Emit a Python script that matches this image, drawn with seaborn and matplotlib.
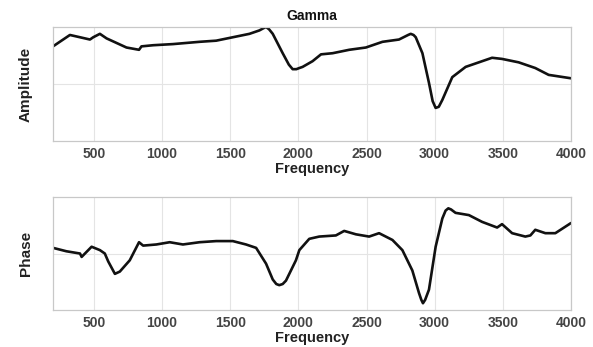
import matplotlib
matplotlib.use("Agg")
import matplotlib.pyplot as plt
import seaborn as sns
import pandas as pd

amp_freq = [200, 324, 398, 471, 495, 544, 593, 666, 739, 831, 849, 934, 1080, 1275, 1397,
            1519, 1641, 1714, 1745, 1763, 1785, 1812, 1885, 1930, 1958, 1985, 2007, 2031,
            2104, 2166, 2251, 2373, 2495, 2617, 2738, 2805, 2824, 2845, 2861, 2910, 2958,
            2985, 3007, 3030, 3056, 3129, 3227, 3324, 3421, 3494, 3616, 3738, 3836, 4000]
amp_vals = [0.83, 0.93, 0.91, 0.89, 0.91, 0.94, 0.90, 0.86, 0.82, 0.80, 0.83, 0.84, 0.85,
            0.87, 0.88, 0.91, 0.94, 0.97, 0.99, 1.00, 0.98, 0.94, 0.77, 0.67, 0.63, 0.63,
            0.64, 0.65, 0.70, 0.76, 0.77, 0.80, 0.82, 0.87, 0.89, 0.93, 0.94, 0.93, 0.91,
            0.77, 0.51, 0.35, 0.29, 0.30, 0.36, 0.56, 0.65, 0.69, 0.73, 0.72, 0.69, 0.64,
            0.58, 0.55]

ph_freq = [200, 298, 398, 410, 483, 544, 580, 605, 654, 690, 763, 831, 861, 958, 1056,
           1153, 1275, 1397, 1519, 1616, 1690, 1763, 1812, 1838, 1860, 1885, 1909, 1982,
           2007, 2080, 2153, 2275, 2336, 2422, 2519, 2592, 2690, 2763, 2836, 2885, 2902,
           2914, 2930, 2958, 3007, 3056, 3080, 3100, 3120, 3153, 3251, 3348, 3458, 3494,
           3568, 3665, 3702, 3738, 3812, 3885, 4000]
ph_vals = [0.55, 0.52, 0.50, 0.47, 0.56, 0.53, 0.50, 0.43, 0.32, 0.34, 0.44, 0.60, 0.57,
           0.58, 0.60, 0.58, 0.60, 0.61, 0.61, 0.58, 0.55, 0.41, 0.27, 0.23, 0.22, 0.23,
           0.26, 0.44, 0.53, 0.63, 0.65, 0.66, 0.70, 0.67, 0.65, 0.68, 0.62, 0.53, 0.35,
           0.15, 0.09, 0.06, 0.09, 0.18, 0.56, 0.81, 0.88, 0.90, 0.89, 0.86, 0.84, 0.78,
           0.73, 0.76, 0.68, 0.65, 0.66, 0.71, 0.68, 0.68, 0.77]

x_ticks = [500, 1000, 1500, 2000, 2500, 3000, 3500, 4000]

sns.set_theme(style="white")
plt.rcParams['font.family'] = ['Liberation Sans', 'DejaVu Sans']

fig = plt.figure(figsize=(5.93, 3.47), dpi=100)
ax1 = fig.add_axes([0.0894, 0.5937, 0.8735, 0.3285])
ax2 = fig.add_axes([0.0894, 0.1066, 0.8735, 0.3256])

df_a = pd.DataFrame({"Frequency": amp_freq, "Amplitude": amp_vals})
df_p = pd.DataFrame({"Frequency": ph_freq, "Phase": ph_vals})

sns.lineplot(data=df_a, x="Frequency", y="Amplitude", ax=ax1, color="#111111", linewidth=1.9)
sns.lineplot(data=df_p, x="Frequency", y="Phase", ax=ax2, color="#111111", linewidth=1.9)

for ax, lab in [(ax1, "Amplitude"), (ax2, "Phase")]:
    ax.set_xlim(200, 4000)
    ax.set_ylim(0, 1)
    ax.set_xticks(x_ticks)
    ax.set_yticks([0.5])
    ax.set_yticklabels([])
    ax.grid(True, color="#e4e4e4", linewidth=0.8)
    for s in ax.spines.values():
        s.set_color("#c8c8c8")
        s.set_linewidth(0.9)
    ax.tick_params(axis="x", labelsize=10, colors="#444444", length=0, pad=4)
    ax.tick_params(axis="y", length=0)
    for t in ax.get_xticklabels():
        t.set_fontweight("bold")
    ax.set_xlabel("Frequency", fontsize=10.5, fontweight="bold", color="#222222", labelpad=1)
    ax.set_ylabel(lab, fontsize=11, fontweight="bold", color="#222222", labelpad=11)

ax1.set_title("Gamma", fontsize=10, fontweight="bold", color="#111111", pad=5)

fig.savefig("out.png", dpi=100)
